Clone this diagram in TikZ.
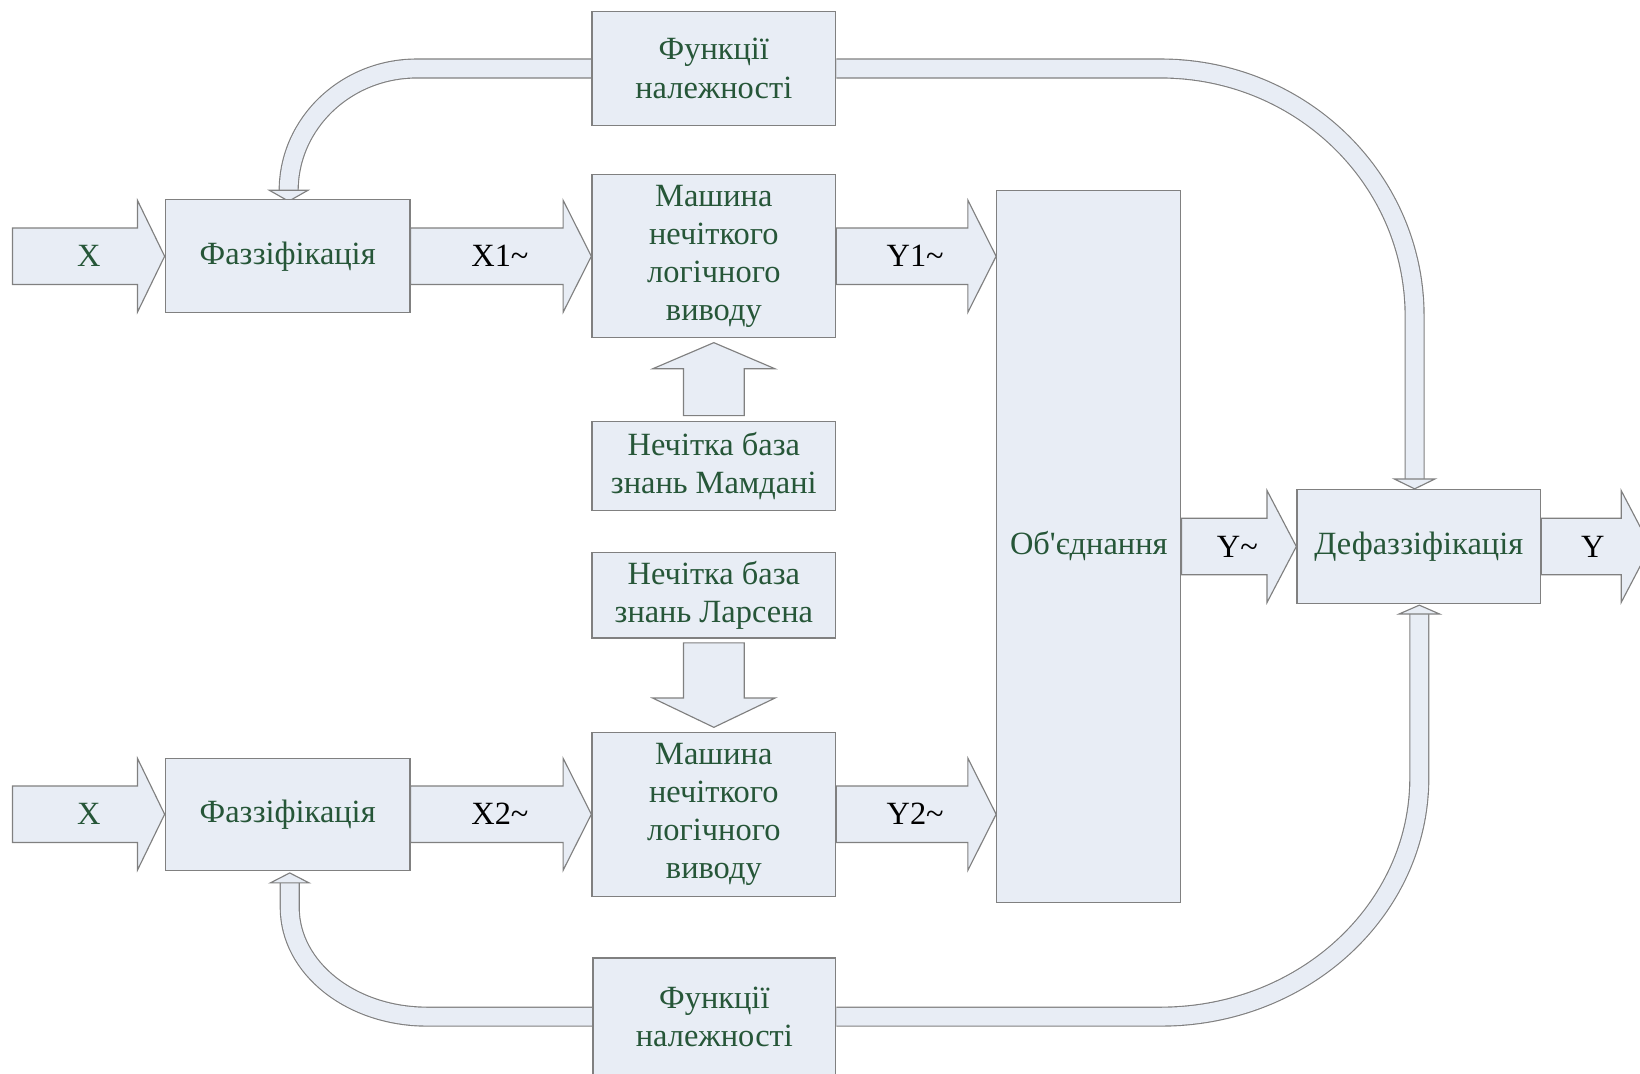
\documentclass[tikz,border=0pt]{standalone}
\usepackage{fontspec}
\setmainfont{Liberation Serif}[Ligatures=TeXOff]
\usetikzlibrary{calc,backgrounds}
\definecolor{boxfill}{RGB}{232,237,245}
\definecolor{edgec}{RGB}{128,128,128}
\definecolor{tgreen}{RGB}{38,86,56}
\tikzset{
 box/.style={draw=edgec, fill=boxfill, line width=1.2pt, inner sep=0pt, align=center,
   text=tgreen, font=\fontsize{31}{36.5}\selectfont, minimum width=233pt},
 lbl/.style={font=\fontsize{31}{36.5}\selectfont, inner sep=0pt},
 blk/.style={draw=edgec, fill=boxfill, line width=1.1pt, line join=miter},
 band/.style={draw=edgec, double=boxfill, double distance=17pt, line width=1.1pt},
}
\newcommand\hblk[3]{%
  \draw[blk] ($(#1)+(0,-27)$) -- ($(#2)+(-#3,-27)$) -- ($(#2)+(-#3,-53.5)$) -- (#2)
     -- ($(#2)+(-#3,53.5)$) -- ($(#2)+(-#3,27)$) -- ($(#1)+(0,27)$) -- cycle;}
\begin{document}
\begin{tikzpicture}[x=1pt,y=-1pt]
\useasboundingbox (0,0) rectangle (1568,1026);
% boxes
\node[box, minimum height=109pt] (fn1) at (682.5,65.5) {Функції\\належності};
\node[box, minimum width=234pt, minimum height=108pt] (fz1) at (275,245) {Фаззіфікація};
\node[box, minimum height=156pt] (m1) at (682.5,245) {Машина\\нечіткого\\логічного\\виводу};
\node[box, minimum width=176pt, minimum height=681pt] (ob) at (1041,522.5) {Об'єднання};
\node[box, minimum height=85pt] (kb1) at (682.5,445.5) {Нечітка база\\знань Мамдані};
\node[box, minimum height=82pt] (kb2) at (682.5,569) {Нечітка база\\знань Ларсена};
\node[box, minimum height=157pt] (m2) at (682.5,778.5) {Машина\\нечіткого\\логічного\\виводу};
\node[box, minimum width=234pt, minimum height=107pt] (fz2) at (275,778.5) {Фаззіфікація};
\node[box, minimum width=232pt, minimum height=112pt] (fn2) at (683,972) {Функції\\належності};
\node[box, minimum height=109pt] (df) at (1356.5,522.5) {Дефаззіфікація};
\coordinate (xin1) at (12,245);
\coordinate (xin2) at (12,778.5);
\coordinate (yout) at (1578,522.5);
% labels
\node[lbl, text=tgreen] (lx1) at (85,245) {X};
\node[lbl] (lx1t) at (478,245) {X1\textasciitilde};
\node[lbl] (ly1) at (875,245) {Y1\textasciitilde};
\node[lbl] (ly) at (1183,522.5) {Y\textasciitilde};
\node[lbl] (lyo) at (1523,522.5) {Y};
\node[lbl, text=tgreen] (lx2) at (85,778.5) {X};
\node[lbl] (lx2t) at (478,778.5) {X2\textasciitilde};
\node[lbl] (ly2) at (875,778.5) {Y2\textasciitilde};
\begin{scope}[on background layer]
% block arrows
\hblk{xin1}{fz1.west}{26}
\hblk{fz1.east}{m1.west}{27}
\hblk{m1.east}{ob.west|-m1.east}{27}
\hblk{ob.east}{df.west}{28}
\hblk{df.east}{yout}{28}
\hblk{xin2}{fz2.west}{26}
\hblk{fz2.east}{m2.west}{27}
\hblk{m2.east}{ob.west|-m2.east}{27}
% vertical block arrows
\draw[blk] ($(kb1.north)+(-29,-5)$) -- ($(m1.south)+(-29,29)$) -- ($(m1.south)+(-58.5,29)$)
  -- ($(m1.south)+(0,4)$) -- ($(m1.south)+(58.5,29)$) -- ($(m1.south)+(29,29)$)
  -- ($(kb1.north)+(29,-5)$) -- cycle;
\draw[blk] ($(kb2.south)+(-29,4)$) -- ($(m2.north)+(-29,-32)$) -- ($(m2.north)+(-58.5,-32)$)
  -- ($(m2.north)+(0,-4)$) -- ($(m2.north)+(58.5,-32)$) -- ($(m2.north)+(29,-32)$)
  -- ($(kb2.south)+(29,4)$) -- cycle;
% curved bands
\draw[band] (fn1.west) -- ($(fn1.west)+(-167,0)$)
  .. controls +(-67.4,0) and +(0,-64.6) .. ($(fz1.north)+(1,-8)$);
\draw[blk] ($(fz1.north)+(-17.5,-8.5)$) -- ($(fz1.north)+(1,2)$) -- ($(fz1.north)+(19.5,-8.5)$) -- cycle;
\draw[band] (fn1.east) -- ($(fn1.east)+(310,0)$)
  .. controls +(134.2,0) and +(0,-131.2) .. ($(df.north)+(-4,-165)$) -- ($(df.north)+(-4,-9)$);
\draw[blk] ($(df.north)+(-23.5,-9.5)$) -- ($(df.north)+(-4,0)$) -- ($(df.north)+(15.5,-9.5)$) -- cycle;
\draw[band] (fn2.west) -- ($(fn2.west)+(-158,0)$)
  .. controls +(-72.9,0) and +(0,57.7) .. ($(fz2.south)+(2,35)$) -- ($(fz2.south)+(2,11)$);
\draw[blk] ($(fz2.south)+(-16.5,11.5)$) -- ($(fz2.south)+(2,2)$) -- ($(fz2.south)+(20.5,11.5)$) -- cycle;
\draw[band] (fn2.east) -- ($(fn2.east)+(310,0)$)
  .. controls +(137,0) and +(0,126.2) .. ($(df.south)+(0.5,166)$) -- ($(df.south)+(0.5,9)$);
\draw[blk] ($(df.south)+(-19,9.5)$) -- ($(df.south)+(0.5,1)$) -- ($(df.south)+(20,9.5)$) -- cycle;
\end{scope}
\end{tikzpicture}
\end{document}
